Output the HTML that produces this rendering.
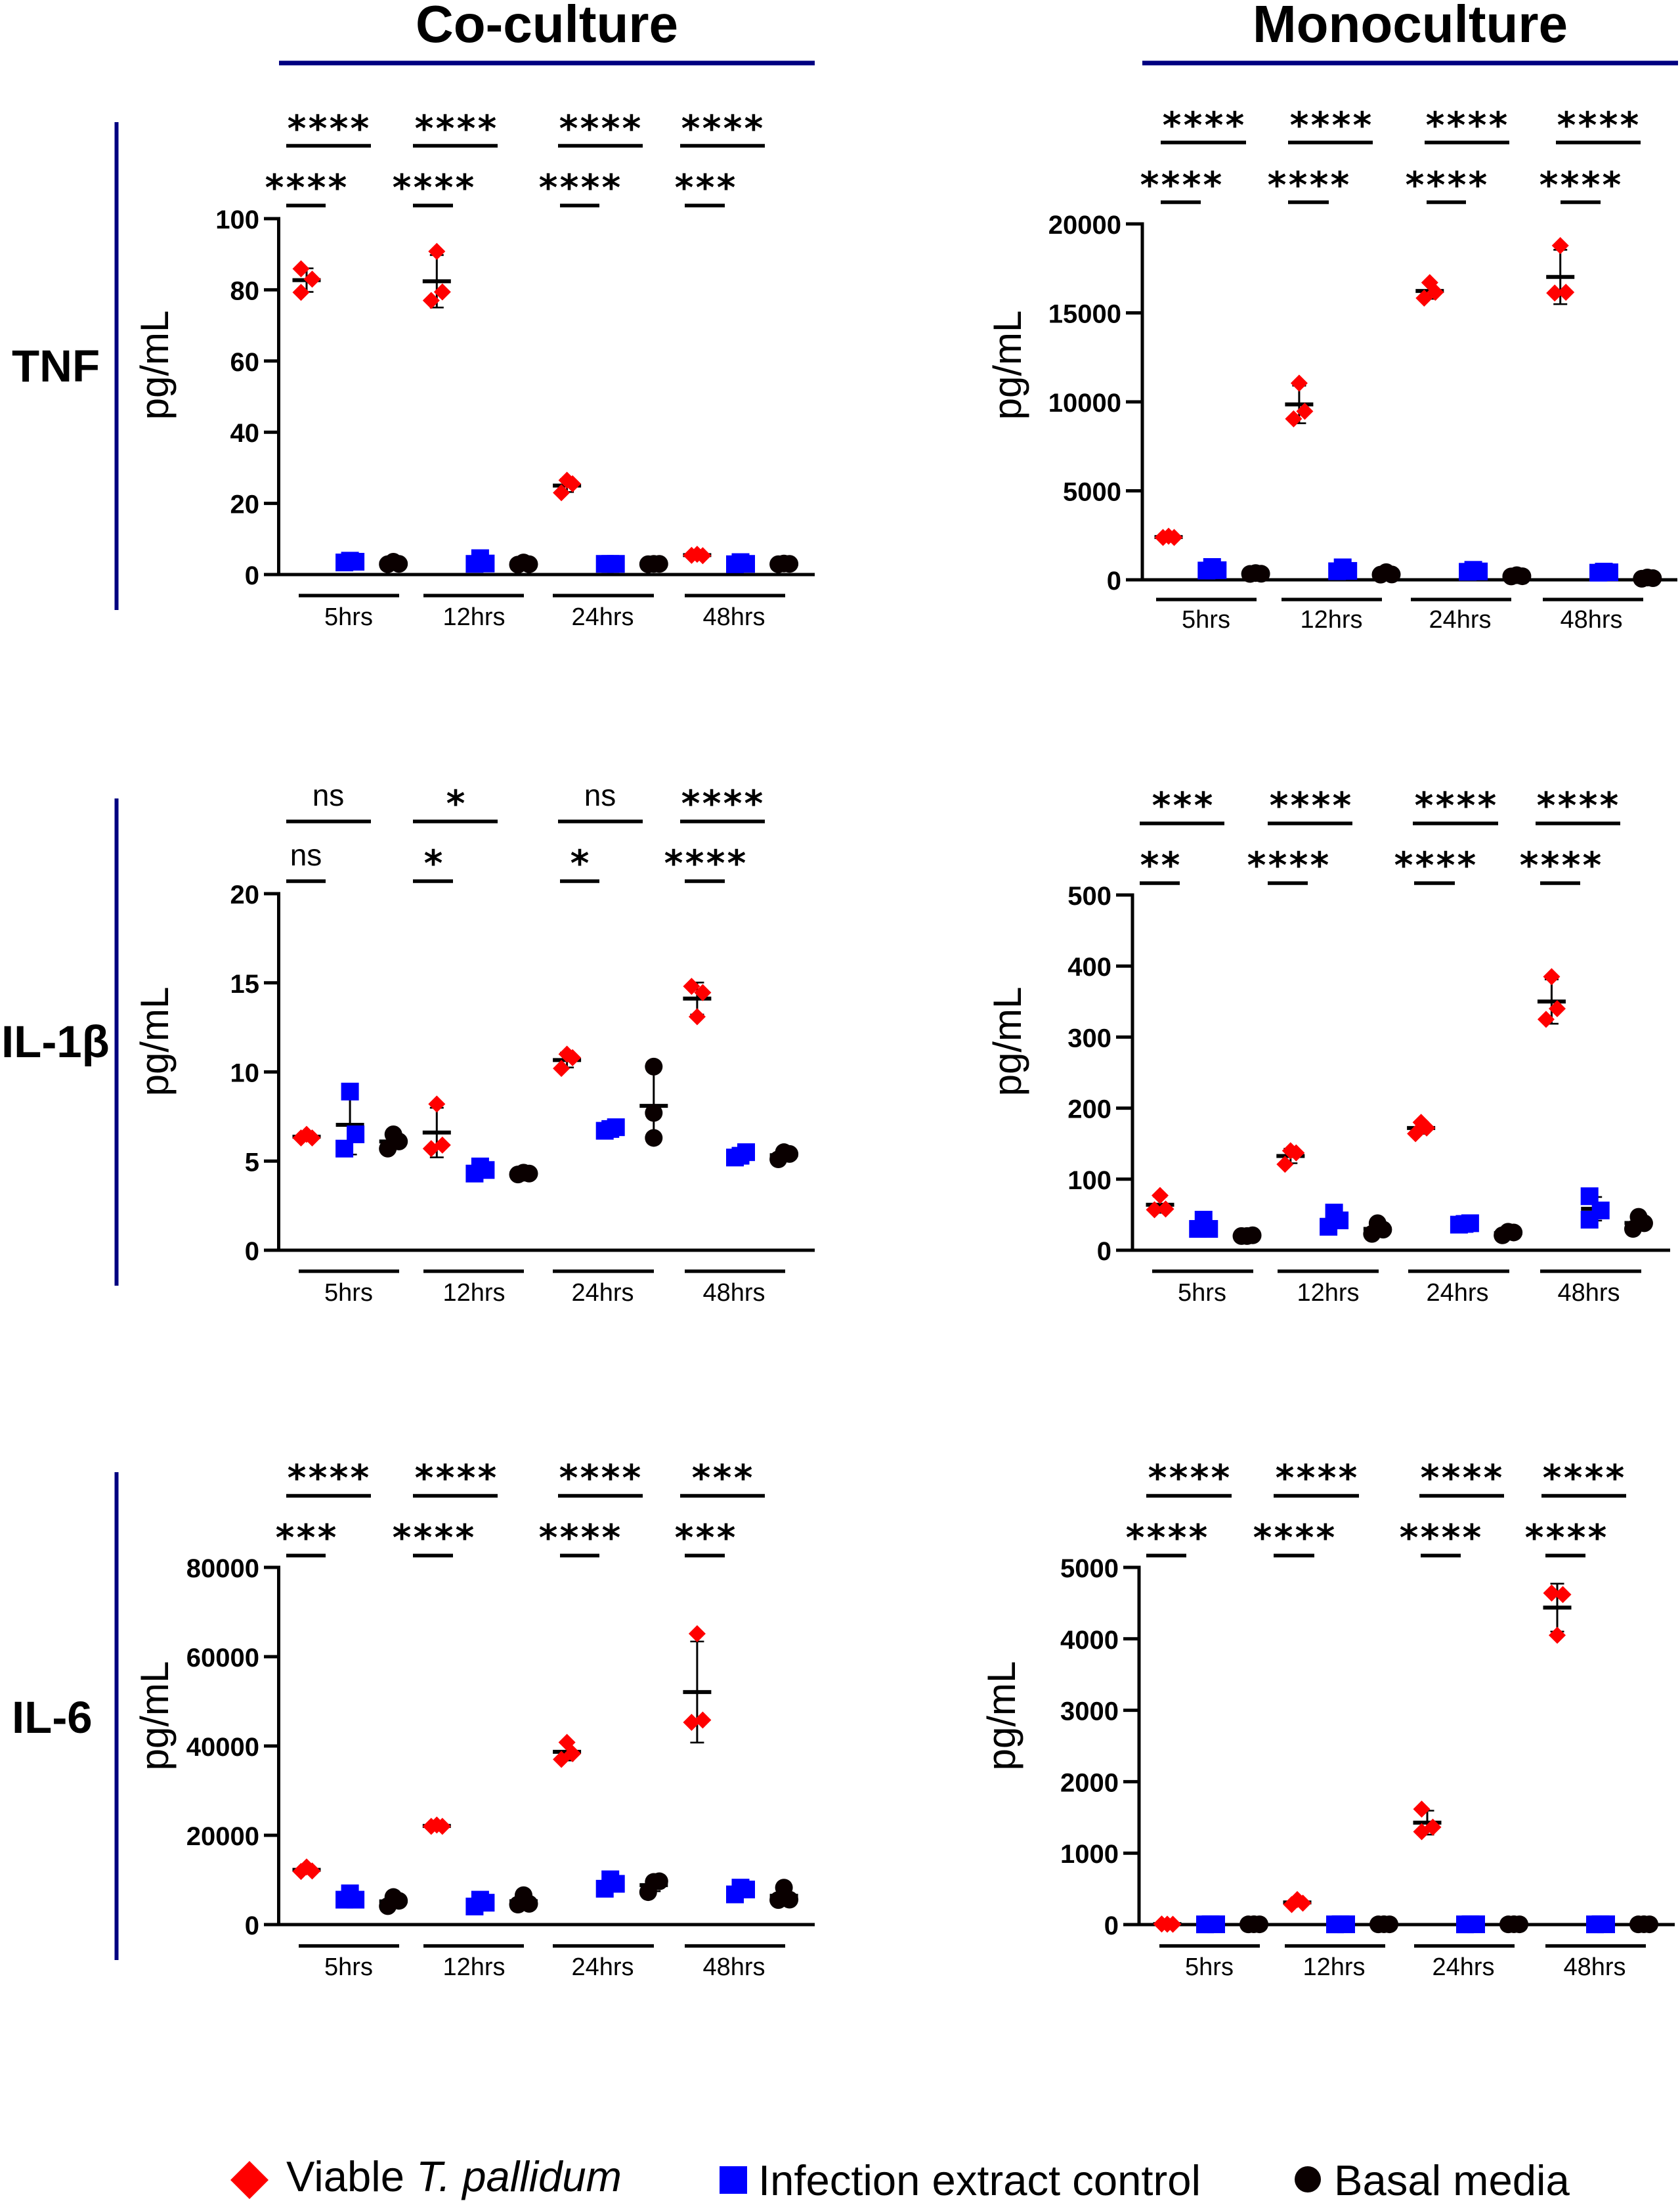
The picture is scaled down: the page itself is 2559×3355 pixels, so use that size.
<!DOCTYPE html>
<html lang="en">
<head>
<meta charset="utf-8">
<title>Cytokine release: co-culture and monoculture</title>
<style>
html,body{margin:0;padding:0;background:#fff;}
svg{display:block;position:absolute;left:0;top:0;}
text{font-family:"Liberation Sans",sans-serif;fill:#000;}
.b{font-weight:bold;}
.star{font-family:"DejaVu Sans","Liberation Sans",sans-serif;font-weight:bold;}
</style>
</head>
<body>
<svg id="figure" xmlns="http://www.w3.org/2000/svg" width="2559" height="3355" viewBox="0 0 2559 3355">
  <rect x="0" y="0" width="2559" height="3355" fill="#fff"/>
  <text class="b" x="833" y="64" font-size="80" text-anchor="middle">Co-culture</text>
  <rect x="425" y="92.5" width="816" height="7" fill="#000080"/>
  <text class="b" x="2148" y="64" font-size="80" text-anchor="middle">Monoculture</text>
  <rect x="1740" y="92.5" width="816" height="7" fill="#000080"/>

  <rect x="174.5" y="186" width="6" height="743" fill="#000080"/>
  <rect x="174.5" y="1216" width="6" height="742" fill="#000080"/>
  <rect x="174.5" y="2242" width="6" height="743" fill="#000080"/>
  <text class="b" x="18" y="581" font-size="69">TNF</text>
  <text class="b" x="2" y="1610" font-size="69">IL-1β</text>
  <text class="b" x="18" y="2639" font-size="69">IL-6</text>

  <g>
    <polygon points="380,3291 409,3320 380,3349 351,3320" fill="#ff0000"/>
    <text x="436" y="3337" font-size="65.2">Viable <tspan font-style="italic">T. pallidum</tspan></text>
    <rect x="1096" y="3299" width="42" height="42" fill="#0000ff"/>
    <text x="1155" y="3343" font-size="65.2">Infection extract control</text>
    <circle cx="1992" cy="3319" r="20" fill="#0a0000"/>
    <text x="2032" y="3343" font-size="65.2">Basal media</text>
  </g>
</svg>
<script>
const categories = ["5hrs", "12hrs", "24hrs", "48hrs"];

/* Tick labels */
const tnfCoTicks = [0, 20, 40, 60, 80, 100];
const tnfMonoTicks = [0, 5000, 10000, 15000, 20000];
const il1bCoTicks = [0, 5, 10, 15, 20];
const il1bMonoTicks = [0, 100, 200, 300, 400, 500];
const il6CoTicks = [0, 20000, 40000, 60000, 80000];
const il6MonoTicks = [0, 1000, 2000, 3000, 4000, 5000];

/* Values: one triplicate per time point */
const tnfCoViable = [[85.9, 83, 79.3], [90.8, 79.4, 77], [26.5, 25.5, 23], [5.4, 5.3, 5.7]];
const tnfCoExtract = [[3.9, 3.6, 3.4], [4.6, 3.1, 3.0], [3.0, 3.0, 3.0], [3.5, 3.0, 2.9]];
const tnfCoBasal = [[3.6, 3.0, 2.9], [3.4, 2.9, 2.8], [3.0, 3.0, 2.9], [3.1, 3.0, 2.9]];

const tnfMonoViable = [[2380, 2380, 2450], [11050, 9470, 9047], [16700, 16160, 15830], [18780, 16160, 16115]];
const tnfMonoExtract = [[720, 540, 520], [700, 500, 480], [560, 470, 450], [460, 420, 400]];
const tnfMonoBasal = [[380, 340, 330], [430, 300, 290], [260, 200, 190], [130, 90, 60]];

const il1bCoViable = [[6.3, 6.3, 6.5], [8.2, 5.9, 5.7], [11.0, 10.8, 10.2], [14.8, 14.45, 13.1]];
const il1bCoExtract = [[8.9, 6.5, 5.7], [4.7, 4.5, 4.3], [6.9, 6.8, 6.7], [5.5, 5.3, 5.2]];
const il1bCoBasal = [[6.5, 6.1, 5.7], [4.3, 4.35, 4.25], [10.3, 7.7, 6.3], [5.5, 5.4, 5.1]];

const il1bMonoViable = [[77, 58, 57], [140, 137, 121], [180, 172, 164], [385, 340, 325]];
const il1bMonoExtract = [[43, 30, 30], [53, 42, 33], [38, 37, 36], [76, 56, 43]];
const il1bMonoBasal = [[21, 20, 20], [38, 29, 23], [26, 25, 21], [47, 38, 30]];

const il6CoViable = [[12900, 12000, 11900], [22000, 22000, 22300], [40800, 38280, 37000], [65150, 45800, 45300]];
const il6CoExtract = [[7000, 5580, 5580], [5580, 4900, 4050], [10140, 9130, 8030], [8280, 7860, 6760]];
const il6CoBasal = [[6170, 5320, 4140], [6590, 4650, 4480], [9700, 9550, 7270], [8280, 5580, 5500]];

const il6MonoViable = [[8, 6, 5], [350, 300, 280], [1617, 1364, 1300], [4640, 4620, 4050]];
const il6MonoExtract = [[5, 4, 3], [5, 4, 3], [5, 4, 3], [5, 4, 3]];
const il6MonoBasal = [[5, 4, 3], [5, 4, 3], [5, 4, 3], [5, 4, 3]];

/* Swarm slot of each replicate: -1 left, 0 centre, 1 right */
const slotsCascade = [0, 1, -1];
const tnfCoViableSlots = [[-1, 1, -1], slotsCascade, slotsCascade, [-1, 1, 0]];
const tnfMonoViableSlots = [[-1, 1, 0], slotsCascade, slotsCascade, slotsCascade];
const il1bCoViableSlots = [[-1, 1, 0], slotsCascade, slotsCascade, [-1, 1, 0]];
const il1bCoExtractSlots = [slotsCascade, slotsCascade, [1, 0, -1], [1, 0, -1]];
const il1bCoBasalSlots = [slotsCascade, [1, 0, -1], [0, 0, 0], slotsCascade];
const il1bMonoBasalSlots = [[1, 0, -1], slotsCascade, slotsCascade, slotsCascade];
const il1bMonoExtractSlots = [slotsCascade, slotsCascade, [1, 0, -1], [-1, 1, -1]];
const il6CoViableSlots = [slotsCascade, [-1, 1, 0], slotsCascade, slotsCascade];
const il6CoBasalSlots = [slotsCascade, slotsCascade, [1, 0, -1], slotsCascade];
const il6MonoViableSlots = [[-1, 0, 1], slotsCascade, [-1, 1, -1], [-1, 1, 0]];
const allCascade = [slotsCascade, slotsCascade, slotsCascade, slotsCascade];

/* Significance labels: [upper row], [lower row] */
const tnfCoSig = [["****", "****", "****", "****"], ["****", "****", "****", "***"]];
const tnfMonoSig = [["****", "****", "****", "****"], ["****", "****", "****", "****"]];
const il1bCoSig = [["ns", "*", "ns", "****"], ["ns", "*", "*", "****"]];
const il1bMonoSig = [["***", "****", "****", "****"], ["**", "****", "****", "****"]];
const il6CoSig = [["****", "****", "****", "***"], ["***", "****", "****", "***"]];
const il6MonoSig = [["****", "****", "****", "****"], ["****", "****", "****", "****"]];

/* Layout of each panel (geometry only) */
const coUpperX = [[436, 565], [629, 758], [850, 979], [1036, 1165]];
const coLowerX = [[436, 496], [629, 690], [853, 913], [1043, 1104]];
const coUpperC = [500, 694, 914, 1100];
const coLowerC = [466, 660, 883, 1074];
const coGroupX = [[455, 608], [645, 798], [842, 996], [1043, 1196]];
const coLabelC = [531, 722, 918, 1118];

const panels = [
  {name: "tnf-co", axisX: 424.5, tickLeft: 402, axisEnd: 1241, top: 333, zero: 875, firstX: 467, stepX: 66.1,
   ticks: tnfCoTicks, values: [tnfCoViable, tnfCoExtract, tnfCoBasal], slots: [tnfCoViableSlots, allCascade, allCascade],
   sig: tnfCoSig, upperX: coUpperX, lowerX: coLowerX, upperC: coUpperC, lowerC: coLowerC, upperY: 222, lowerY: 313, upperTextY: 187, lowerTextY: 277,
   groupX: coGroupX, labelC: coLabelC, groupY: 907, labelY: 952, ylabelX: 256, ylabelY: 556},
  {name: "tnf-mono", axisX: 1740, tickLeft: 1715, axisEnd: 2555, top: 341, zero: 883, firstX: 1780, stepX: 66.3,
   ticks: tnfMonoTicks, values: [tnfMonoViable, tnfMonoExtract, tnfMonoBasal], slots: [tnfMonoViableSlots, allCascade, allCascade],
   sig: tnfMonoSig, upperX: [[1768, 1898], [1962, 2091], [2170, 2299], [2370, 2499]], lowerX: [[1768, 1829], [1962, 2024], [2173, 2233], [2377, 2438]],
   upperC: [1833, 2027, 2234, 2434], lowerC: [1799, 1993, 2203, 2407], upperY: 217, lowerY: 308, upperTextY: 182, lowerTextY: 273,
   groupX: [[1761, 1914], [1952, 2105], [2149, 2302], [2350, 2503]], labelC: [1837, 2028, 2224, 2424], groupY: 913, labelY: 956, ylabelX: 1555, ylabelY: 556},
  {name: "il1b-co", axisX: 424.5, tickLeft: 402, axisEnd: 1241, top: 1361, zero: 1904, firstX: 467, stepX: 66.1,
   ticks: il1bCoTicks, values: [il1bCoViable, il1bCoExtract, il1bCoBasal], slots: [il1bCoViableSlots, il1bCoExtractSlots, il1bCoBasalSlots],
   sig: il1bCoSig, upperX: coUpperX, lowerX: coLowerX, upperC: coUpperC, lowerC: coLowerC, upperY: 1251, lowerY: 1342, upperTextY: 1215, lowerTextY: 1306,
   groupX: coGroupX, labelC: coLabelC, groupY: 1936, labelY: 1981, ylabelX: 256, ylabelY: 1586},
  {name: "il1b-mono", axisX: 1725, tickLeft: 1700, axisEnd: 2544, top: 1363, zero: 1904, firstX: 1767, stepX: 66.27,
   ticks: il1bMonoTicks, values: [il1bMonoViable, il1bMonoExtract, il1bMonoBasal], slots: [allCascade, il1bMonoExtractSlots, il1bMonoBasalSlots],
   sig: il1bMonoSig, upperX: [[1736, 1865], [1931, 2060], [2152, 2282], [2339, 2468]], lowerX: [[1736, 1797], [1931, 1992], [2154, 2216], [2346, 2407]],
   upperC: [1801, 1996, 2217, 2403], lowerC: [1767, 1962, 2186, 2377], upperY: 1254, lowerY: 1345, upperTextY: 1218, lowerTextY: 1309,
   groupX: [[1755, 1909], [1946, 2100], [2145, 2299], [2346, 2500]], labelC: [1831, 2023, 2220, 2420], groupY: 1936, labelY: 1981, ylabelX: 1555, ylabelY: 1586},
  {name: "il6-co", axisX: 424.5, tickLeft: 402, axisEnd: 1241, top: 2387, zero: 2931, firstX: 467, stepX: 66.1,
   ticks: il6CoTicks, values: [il6CoViable, il6CoExtract, il6CoBasal], slots: [il6CoViableSlots, allCascade, il6CoBasalSlots],
   sig: il6CoSig, upperX: coUpperX, lowerX: coLowerX, upperC: coUpperC, lowerC: coLowerC, upperY: 2278, lowerY: 2369, upperTextY: 2242, lowerTextY: 2333,
   groupX: coGroupX, labelC: coLabelC, groupY: 2963.5, labelY: 3008, ylabelX: 256, ylabelY: 2613},
  {name: "il6-mono", axisX: 1735, tickLeft: 1711, axisEnd: 2551, top: 2387, zero: 2931, firstX: 1778, stepX: 66,
   ticks: il6MonoTicks, values: [il6MonoViable, il6MonoExtract, il6MonoBasal], slots: [il6MonoViableSlots, allCascade, allCascade],
   sig: il6MonoSig, upperX: [[1746, 1876], [1940, 2070], [2162, 2291], [2348, 2477]], lowerX: [[1746, 1807], [1940, 2002], [2164, 2225], [2354, 2415]],
   upperC: [1811, 2005, 2226, 2412], lowerC: [1777, 1971, 2194, 2385], upperY: 2278, lowerY: 2369, upperTextY: 2242, lowerTextY: 2333,
   groupX: [[1766, 1919], [1957, 2110], [2154, 2307], [2354, 2507]], labelC: [1842, 2032, 2229, 2429], groupY: 2963.5, labelY: 3008, ylabelX: 1546, ylabelY: 2613}
];

const seriesNames = ["viable", "extract", "basal"];
const seriesColors = ["#ff0000", "#0000ff", "#0a0000"];
const slotWidth = 8.5;
const svg = document.getElementById("figure");
const NS = "http://www.w3.org/2000/svg";

function make(tag, attrs, parent) {
  const el = document.createElementNS(NS, tag);
  for (const k in attrs) el.setAttribute(k, attrs[k]);
  parent.appendChild(el);
  return el;
}
function line(parent, x1, y1, x2, y2, w) {
  return make("line", {x1: x1, y1: y1, x2: x2, y2: y2, stroke: "#000", "stroke-width": w}, parent);
}
function mean(a) {
  return a.reduce(function (s, v) { return s + v; }, 0) / a.length;
}
function sd(a) {
  const m = mean(a);
  return Math.sqrt(a.reduce(function (s, v) { return s + (v - m) * (v - m); }, 0) / (a.length - 1));
}

panels.forEach(function (p) {
  const g = make("g", {}, svg);
  
  

  const maxTick = p.ticks[p.ticks.length - 1];
  const yScale = function (v) { return p.zero - (v / maxTick) * (p.zero - p.top); };
  const xScale = function (groupIndex, seriesIndex) { return p.firstX + p.stepX * (groupIndex * 3 + seriesIndex); };

  /* y axis title */
  const yt = make("text", {x: p.ylabelX, y: p.ylabelY, "font-size": 60, "text-anchor": "middle",
    transform: "rotate(-90 " + p.ylabelX + " " + p.ylabelY + ")"}, g);
  yt.textContent = "pg/mL";
  
  

  /* axes */
  const yAxis = line(g, p.axisX, p.top - 2.5, p.axisX, p.zero + 2, 5);
  
  
  const xAxis = line(g, p.tickLeft, p.zero, p.axisEnd, p.zero, 5);
  
  

  p.ticks.forEach(function (t) {
    const tick = line(g, p.tickLeft, yScale(t), p.axisX, yScale(t), 5);
    
    
    const lab = make("text", {x: p.tickLeft - 7, y: yScale(t) + 15, "font-size": 40, "font-weight": "bold", "text-anchor": "end"}, g);
    lab.textContent = t;
    
    
  });

  /* time-point group lines and labels */
  categories.forEach(function (c, i) {
    const gl = line(g, p.groupX[i][0], p.groupY, p.groupX[i][1], p.groupY, 5.3);
    
    
    const tl = make("text", {x: p.labelC[i], y: p.labelY, "font-size": 38, "text-anchor": "middle"}, g);
    tl.textContent = c;
    
    
  });

  /* significance brackets */
  [0, 1].forEach(function (row) {
    const rangeX = row === 0 ? p.upperX : p.lowerX;
    const centres = row === 0 ? p.upperC : p.lowerC;
    const barY = row === 0 ? p.upperY : p.lowerY;
    const textY = row === 0 ? p.upperTextY : p.lowerTextY;
    p.sig[row].forEach(function (s, i) {
      const br = line(g, rangeX[i][0], barY, rangeX[i][1], barY, 5.4);
      
      
      const isNs = s === "ns";
      const st = make("text", isNs
        ? {x: centres[i], y: textY + 12, "font-size": 46, "text-anchor": "middle"}
        : {x: centres[i] + 1.6, y: textY + 28, "font-size": 55, "letter-spacing": 3.2, "text-anchor": "middle", "class": "star"}, g);
      st.textContent = s;
      
      
    });
  });

  /* series */
  p.values.forEach(function (groups, si) {
    groups.forEach(function (vals, gi) {
      const cx = xScale(gi, si);
      const m = mean(vals);
      const e = sd(vals);
      const yHi = yScale(m + e);
      const yLo = yScale(m - e);

      const stem = line(g, cx, yHi, cx, yLo, 3);
      
      
      const capHi = line(g, cx - 10.5, yHi, cx + 10.5, yHi, 2.6);
      
      
      const capLo = line(g, cx - 10.5, yLo, cx + 10.5, yLo, 2.6);
      
      
      const ml = line(g, cx - 21.5, yScale(m), cx + 21.5, yScale(m), 6);
      
      

      vals.forEach(function (v, vi) {
        const px = cx + p.slots[si][gi][vi] * slotWidth;
        const py = yScale(v);
        let mark;
        if (si === 0) {
          mark = make("polygon", {points: px + "," + (py - 13) + " " + (px + 13) + "," + py + " " + px + "," + (py + 13) + " " + (px - 13) + "," + py, fill: seriesColors[si]}, g);
        } else if (si === 1) {
          mark = make("rect", {x: px - 13.5, y: py - 13.5, width: 27, height: 27, fill: seriesColors[si]}, g);
        } else {
          mark = make("circle", {cx: px, cy: py, r: 13.5, fill: seriesColors[si]}, g);
        }
        
        
      });
    });
  });
});
</script>
</body>
</html>
